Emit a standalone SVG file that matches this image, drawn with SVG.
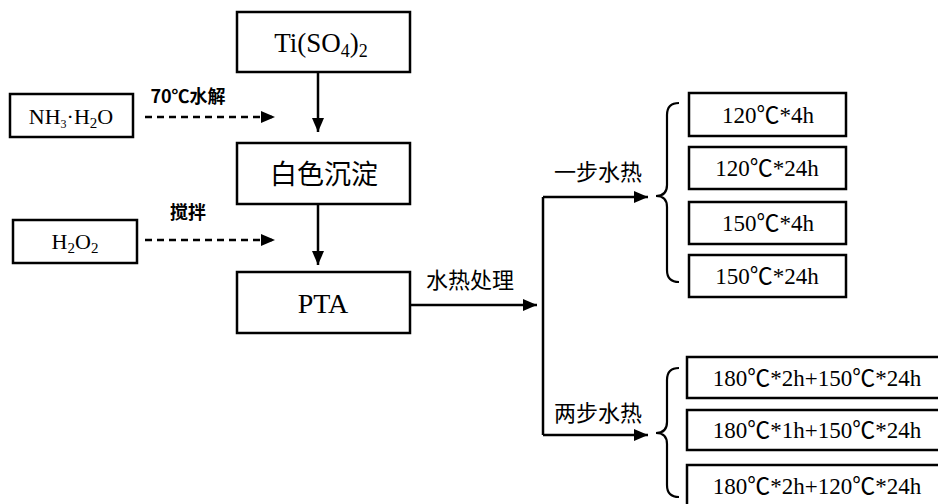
<svg xmlns="http://www.w3.org/2000/svg" width="938" height="504" viewBox="0 0 938 504">
<defs>
<marker id="ahb" viewBox="0 0 14 12" refX="14" refY="6" markerWidth="14" markerHeight="12" markerUnits="userSpaceOnUse" orient="auto"><path d="M0,0 L14,6 L0,12 Z" fill="#000"/></marker>
<style>
.box{fill:#fff;stroke:#000;stroke-width:2.5}
.t{font-family:"Liberation Serif","Noto Sans CJK SC",serif;fill:#000;text-anchor:middle}
.c{font-family:"Noto Sans CJK SC","Noto Sans",sans-serif;fill:#000;text-anchor:middle}
.ln{fill:none;stroke:#000;stroke-width:2.5}
.ds{fill:none;stroke:#000;stroke-width:2.5;stroke-dasharray:7,5}
.br{fill:none;stroke:#000;stroke-width:2.2}
</style>
</defs>
<rect width="938" height="504" fill="#fff"/>
<g id="connectors">
<path class="ln" d="M318,72 V132" marker-end="url(#ahb)"/>
<path class="ln" d="M318,204 V265" marker-end="url(#ahb)"/>
<path class="ds" d="M145,117 H275" marker-end="url(#ahb)"/>
<path class="ds" d="M145,240 H275" marker-end="url(#ahb)"/>
<path class="ln" d="M410,305 H537" marker-end="url(#ahb)"/>
<path class="ln" d="M543,197 V435"/>
<path class="ln" d="M543,197 H648" marker-end="url(#ahb)"/>
<path class="ln" d="M543,435 H648" marker-end="url(#ahb)"/>
<text class="c" x="188" y="103" font-size="18" font-weight="bold">70℃水解</text>
<text class="c" x="188" y="219" font-size="18" font-weight="bold">搅拌</text>
<text class="c" x="470" y="288" font-size="22">水热处理</text>
<text class="c" x="598" y="180" font-size="22">一步水热</text>
<text class="c" x="598" y="421" font-size="22">两步水热</text>
<path class="br" d="M679,103 Q667,103 667,115 V185 Q667,196 656,196 Q667,196 667,207 V270 Q667,282 679,282"/>
<path class="br" d="M679,368 Q667,368 667,380 V422 Q667,433 656,433 Q667,433 667,444 V485 Q667,497 679,497"/>
</g>
<g id="n-ti"><rect class="box" x="237" y="12" width="173" height="60"/><text class="t" x="321" y="52" font-size="27">Ti(SO<tspan font-size="18" dy="5">4</tspan><tspan dy="-5">)</tspan><tspan font-size="18" dy="5">2</tspan></text></g>
<g id="n-nh3"><rect class="box" x="10" y="94" width="123" height="43"/><text class="t" x="71" y="124" font-size="22">NH<tspan font-size="12" dy="4">3</tspan><tspan dy="-4">·H</tspan><tspan font-size="15" dy="4">2</tspan><tspan dy="-4">O</tspan></text></g>
<g id="n-bai"><rect class="box" x="237" y="143" width="173" height="61"/><text class="c" x="324" y="184" font-size="27">白色沉淀</text></g>
<g id="n-h2o2"><rect class="box" x="13" y="220" width="124" height="43"/><text class="t" x="75" y="249" font-size="22">H<tspan font-size="15" dy="4">2</tspan><tspan dy="-4">O</tspan><tspan font-size="15" dy="4">2</tspan></text></g>
<g id="n-pta"><rect class="box" x="237" y="272" width="173" height="61"/><text class="t" x="323" y="313" font-size="28">PTA</text></g>
<g id="n-r1"><rect class="box" x="689" y="93" width="157" height="43"/><text class="t" x="768" y="123" font-size="23">120℃*4h</text></g>
<g id="n-r2"><rect class="box" x="689" y="147" width="157" height="42"/><text class="t" x="767" y="176" font-size="23">120℃*24h</text></g>
<g id="n-r3"><rect class="box" x="689" y="202" width="157" height="42"/><text class="t" x="768" y="231" font-size="23">150℃*4h</text></g>
<g id="n-r4"><rect class="box" x="689" y="255" width="157" height="42"/><text class="t" x="767" y="284" font-size="23">150℃*24h</text></g>
<g id="n-s1"><rect class="box" x="687" y="357" width="270" height="41"/><text class="t" x="817" y="386" font-size="23">180℃*2h+150℃*24h</text></g>
<g id="n-s2"><rect class="box" x="687" y="410" width="270" height="40"/><text class="t" x="817" y="438" font-size="23">180℃*1h+150℃*24h</text></g>
<g id="n-s3"><rect class="box" x="687" y="465" width="270" height="50"/><text class="t" x="817" y="494" font-size="23">180℃*2h+120℃*24h</text></g>
</svg>
